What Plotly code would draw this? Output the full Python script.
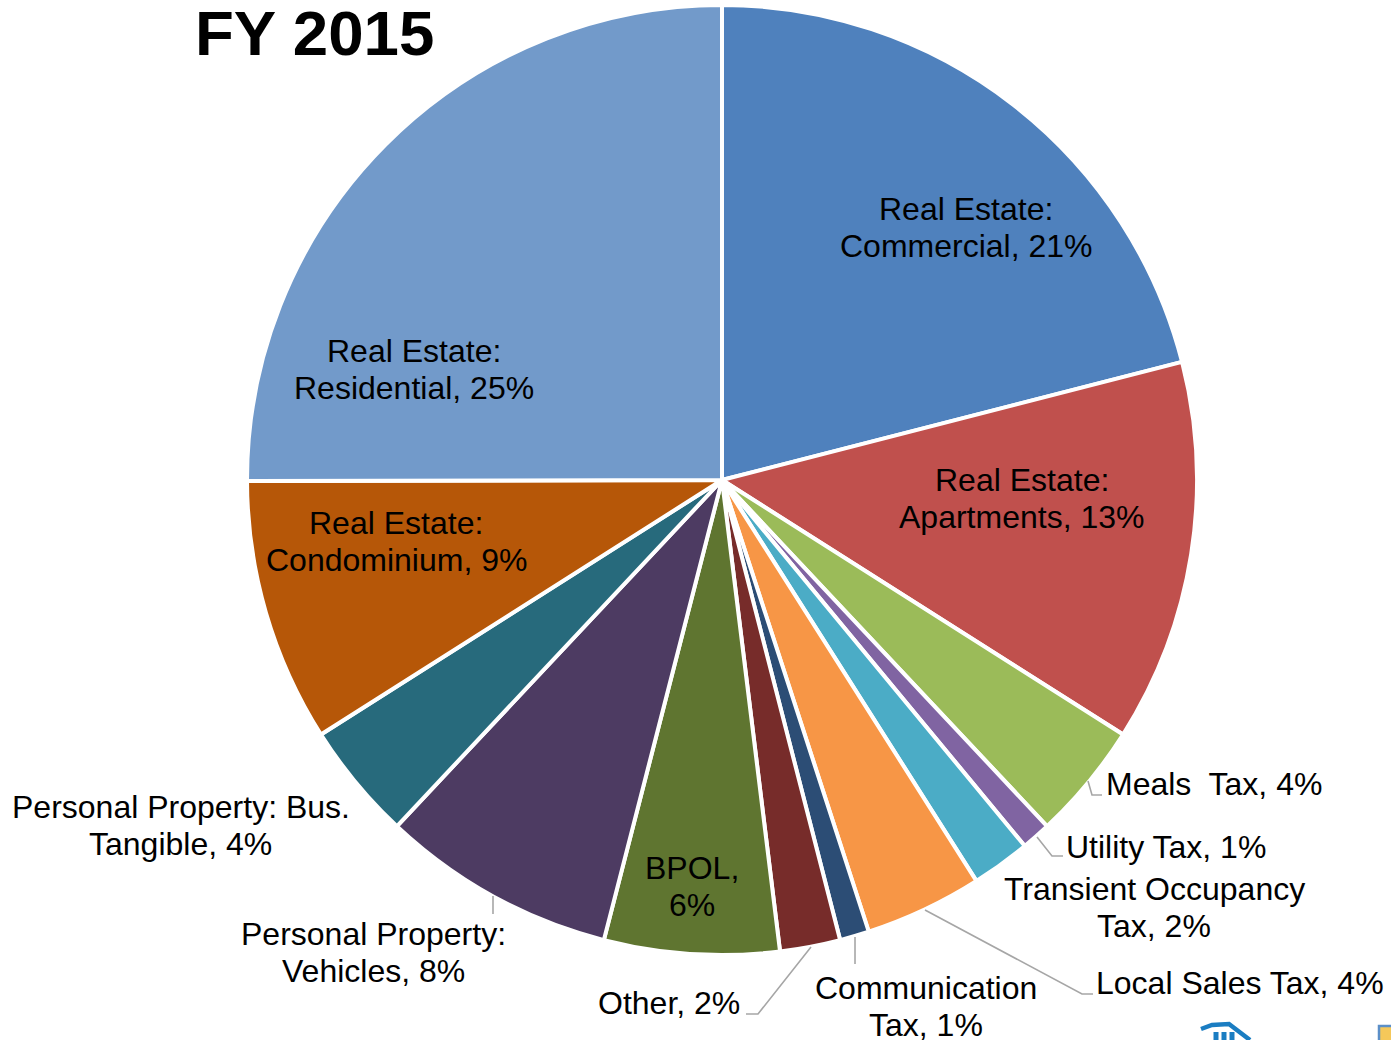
import plotly.graph_objects as go

W, H = 1391, 1040
categories = ["Real Estate: Commercial", "Real Estate: Apartments", "Meals Tax", "Utility Tax",
              "Transient Occupancy Tax", "Local Sales Tax", "Communication Tax", "Other", "BPOL",
              "Personal Property: Vehicles", "Personal Property: Bus. Tangible",
              "Real Estate: Condominium", "Real Estate: Residential"]
values = [21.0, 13.0, 4.0, 1.0, 2.0, 4.0, 1.0, 2.05, 5.95, 8.0, 4.0, 8.97, 25.03]
colors = ["#4F81BD", "#C0504D", "#9BBB59", "#8064A2", "#4BACC6", "#F79646", "#2C4D75", "#772C2A",
          "#5F7530", "#4D3B62", "#276A7C", "#B65708", "#729ACA"]

# one line of text, centre x, centre y (pixels)
labels = [
    ("Real Estate:", 966, 209), ("Commercial, 21%", 966, 246),
    ("Real Estate:", 1021.5, 480), ("Apartments, 13%", 1021.5, 517),
    ("Meals  Tax, 4%", 1214, 784),
    ("Utility Tax, 1%", 1166, 847),
    ("Transient Occupancy", 1154, 889), ("Tax, 2%", 1154, 926),
    ("Local Sales Tax, 4%", 1240, 983),
    ("Communication", 926, 988), ("Tax, 1%", 926, 1025),
    ("Other, 2%", 669, 1003),
    ("BPOL,", 692, 868), ("6%", 692, 905),
    ("Personal Property:", 374, 934), ("Vehicles, 8%", 374, 971),
    ("Personal Property: Bus.", 181, 807), ("Tangible, 4%", 180, 844),
    ("Real Estate:", 396.5, 523), ("Condominium, 9%", 396, 560),
    ("Real Estate:", 414, 351), ("Residential, 25%", 414, 388),
]
leaders = [
    [(1088, 781), (1092, 795), (1102, 795)],
    [(1037, 837), (1052, 856), (1063, 856)],
    [(925, 910), (1082, 994), (1093, 994)],
    [(855, 937), (855, 964)],
    [(811, 947), (758, 1014), (746, 1014)],
    [(493, 896), (493, 914)],
]

fig = go.Figure(go.Pie(
    labels=categories, values=values, sort=False, direction="clockwise", rotation=0,
    marker=dict(colors=colors, line=dict(color="white", width=4)),
    textinfo="none", hoverinfo="label+percent", showlegend=False,
    domain=dict(x=[247 / W, 1197 / W], y=[1 - 955 / H, 1 - 5 / H]),
))
annotations = [dict(text=t, x=x / W, y=1 - y / H, xref="paper", yref="paper", showarrow=False,
                    xanchor="center", yanchor="middle", align="center",
                    font=dict(family="Liberation Sans", size=32, color="black"))
               for t, x, y in labels]
annotations.append(dict(text="<b>FY 2015</b>", x=314.5 / W, y=1 - 32.5 / H, xref="paper", yref="paper",
                        showarrow=False, xanchor="center", yanchor="middle",
                        font=dict(family="Liberation Sans", size=63.6, color="black")))
shapes = []
for pts in leaders:
    path = "M " + " L ".join(f"{x / W:.5f},{1 - y / H:.5f}" for x, y in pts)
    shapes.append(dict(type="path", path=path, xref="paper", yref="paper",
                       line=dict(color="#A6A6A6", width=1.6)))
# Fragments of the logos cut off by the bottom edge of the picture
logo = [(1201, 1029), (1212, 1025), (1229, 1024), (1250, 1040)]
shapes.append(dict(type="path", xref="paper", yref="paper",
                   path="M " + " L ".join(f"{x / W:.5f},{1 - y / H:.5f}" for x, y in logo),
                   line=dict(color="#1A7DC2", width=4.5)))
for x0 in (1216, 1224, 1232):
    shapes.append(dict(type="line", xref="paper", yref="paper", x0=x0 / W, x1=x0 / W,
                       y0=0, y1=1 - 1032 / H, line=dict(color="#1A7DC2", width=5)))
shapes.append(dict(type="rect", xref="paper", yref="paper", x0=1379 / W, x1=1393 / W,
                   y0=-0.002, y1=1 - 1026 / H, fillcolor="#F5C85A",
                   line=dict(color="#5B8FC8", width=2.5)))
fig.update_layout(width=W, height=H, margin=dict(l=0, r=0, t=0, b=0), autosize=False,
                  paper_bgcolor="white", annotations=annotations, shapes=shapes)
fig.write_html("out.html", config=dict(displayModeBar=False),
               post_script="document.body.style.margin='0';document.body.style.overflow='hidden';")
